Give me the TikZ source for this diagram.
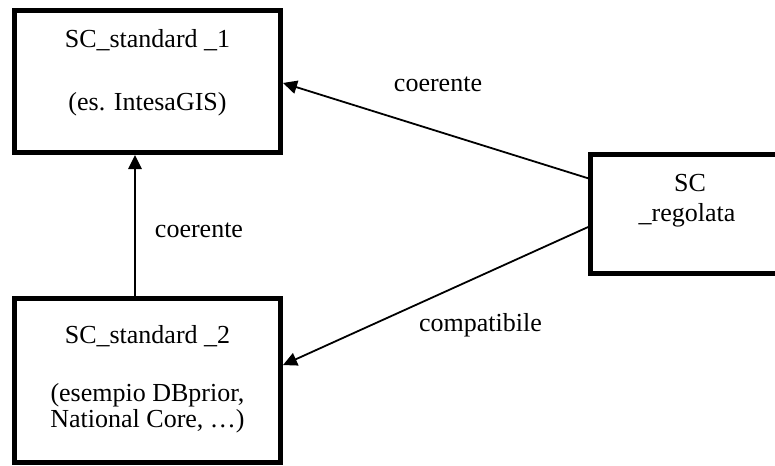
\documentclass[tikz,border=0pt]{standalone}
\usepackage{fontspec}
\setmainfont{Liberation Serif}
\usetikzlibrary{arrows.meta}
\begin{document}
\begin{tikzpicture}[x=0.75pt,y=-0.75pt,
  box/.style={draw=black,line width=3.75pt,inner sep=0pt,rectangle},
  txt/.style={anchor=base,inner sep=0pt,font=\fontsize{19.5pt}{23pt}\selectfont},
  link/.style={line width=1.35pt,-{Triangle[length=10.5pt,width=10pt]}}]
  \useasboundingbox (0,0) rectangle (775,465);

  % boxes
  \node[box,minimum width=199.5pt,minimum height=106.5pt] (b1) at (147.5,81.5) {};
  \node[box,minimum width=199.5pt,minimum height=123pt] (b2) at (147.5,380.5) {};
  \node[box,minimum width=146.6pt,minimum height=89.6pt] (b3) at (688.25,214.25) {};

  % box texts
  \node[txt] (t1a) at (147.5,47) {SC\_standard \_1};
  \node[txt] (t1b) at (147.5,110) {(es. IntesaGIS)};
  \node[txt] (t2a) at (147.5,343) {SC\_standard \_2};
  \node[txt] (t2b) at (147.5,401.5) {(esempio DBprior,};
  \node[txt] (t2c) at (147.5,427.5) {National Core, …)};
  \node[txt] (t3a) at (690,191.5) {SC};
  \node[txt] (t3b) at (687,221.5) {\_regolata};

  % connectors
  \draw[link] ([xshift=-9.4pt]b2.north) -- ([xshift=-9.4pt]b1.south);
  \draw[link] ([yshift=27pt]b3.west) -- ([yshift=-1.1pt]b1.east);
  \draw[link] ([yshift=-9.6pt]b3.west) -- ([yshift=11.6pt]b2.east);

  % connector labels
  \node[txt] (l1) at (199,237) {coerente};
  \node[txt] (l2) at (438,91.5) {coerente};
  \node[txt] (l3) at (480.5,331.5) {compatibile};
\end{tikzpicture}
\end{document}
